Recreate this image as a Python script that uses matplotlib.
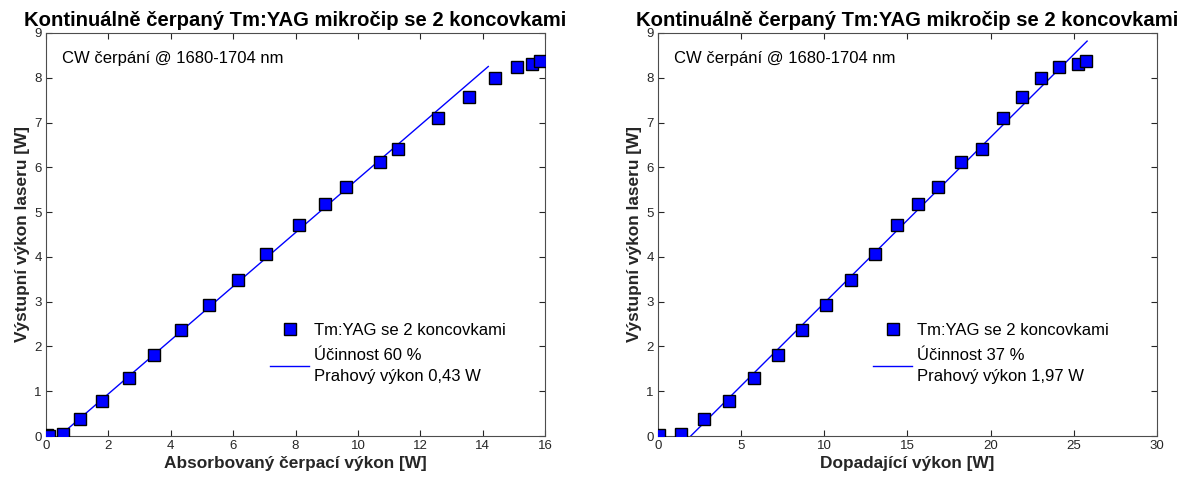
import matplotlib
matplotlib.use("Agg")
import matplotlib.pyplot as plt
import numpy as np

plt.rcParams['font.family'] = ['Liberation Sans', 'DejaVu Sans']

# Absorbed pump power vs. output power
abs_pump = [0.02, 0.10, 0.54, 1.09, 1.80, 2.66, 3.46, 4.33, 5.22, 6.15, 7.05,
            8.10, 8.94, 9.62, 10.70, 11.28, 12.56, 13.56, 14.39, 15.10, 15.58, 15.83]
abs_out = [0.02, 0.01, 0.05, 0.38, 0.79, 1.29, 1.80, 2.36, 2.92, 3.48, 4.07,
           4.71, 5.17, 5.57, 6.11, 6.41, 7.10, 7.58, 8.00, 8.24, 8.31, 8.37]

# Incident pump power vs. output power
inc_pump = [0.05, 1.38, 2.77, 4.27, 5.77, 7.20, 8.66, 10.10, 11.60, 13.05, 14.37,
            15.63, 16.84, 18.20, 19.48, 20.75, 21.90, 23.03, 24.10, 25.25, 25.75]
inc_out = [0.02, 0.05, 0.38, 0.79, 1.29, 1.80, 2.36, 2.92, 3.48, 4.07, 4.71,
           5.17, 5.57, 6.11, 6.41, 7.10, 7.58, 8.00, 8.24, 8.31, 8.37]

# Linear fits: slope efficiency and threshold
abs_eff, abs_thr = 0.60, 0.43
abs_fit_end = 14.18
inc_eff, inc_thr = 0.37, 1.97
inc_fit_end = 25.80

title = "Kontinuálně čerpaný Tm:YAG mikročip se 2 koncovkami"
note = "CW čerpání @ 1680-1704 nm"
ylabel = "Výstupní výkon laseru [W]"
series_label = "Tm:YAG se 2 koncovkami"

fig = plt.figure(figsize=(11.94, 4.84), dpi=100)
ax1 = fig.add_axes([0.0385, 0.099, 0.418, 0.833])
ax2 = fig.add_axes([0.551, 0.099, 0.418, 0.833])

panels = [
    (ax1, abs_pump, abs_out, abs_eff, abs_thr, abs_fit_end,
     "Absorbovaný čerpací výkon [W]", (0, 16), np.arange(0, 17, 2), "Účinnost 60 %\nPrahový výkon 0,43 W",
     (0.419, 0.318)),
    (ax2, inc_pump, inc_out, inc_eff, inc_thr, inc_fit_end,
     "Dopadající výkon [W]", (0, 30), np.arange(0, 31, 5), "Účinnost 37 %\nPrahový výkon 1,97 W",
     (0.401, 0.318)),
]

for ax, px, py, eff, thr, xend, xlabel, xlim, xticks, fit_label, leg_pos in panels:
    fx = np.array([thr, xend])
    fy = eff * (fx - thr)
    ax.plot(px, py, linestyle='none', marker='s', markersize=8.5,
            markerfacecolor='#0000ff', markeredgecolor='black', markeredgewidth=1.0,
            label=series_label, zorder=3)
    ax.plot(fx, fy, color='#0000ff', linewidth=1.0, label=fit_label, zorder=2)
    ax.set_xlim(*xlim)
    ax.set_ylim(0, 9)
    ax.set_xticks(xticks)
    ax.set_yticks(np.arange(0, 10, 1))
    ax.tick_params(direction='in', top=True, right=True, length=4, width=0.8,
                   labelsize=9.5, colors='#262626', pad=3)
    for s in ax.spines.values():
        s.set_color('#4d4d4d')
        s.set_linewidth(0.8)
    ax.set_title(title, fontsize=14.6, fontweight='bold', pad=5)
    ax.set_xlabel(xlabel, fontsize=12.4, fontweight='bold', color='#262626', labelpad=3)
    ax.set_ylabel(ylabel, fontsize=12.4, fontweight='bold', color='#262626', labelpad=3)
    ax.text(0.033, 0.955, note, transform=ax.transAxes, fontsize=12, va='top', ha='left')
    leg = ax.legend(loc='upper left', bbox_to_anchor=leg_pos, frameon=False, fontsize=12,
                    handlelength=2.35, handletextpad=0.3, labelspacing=0.6)
    for t in leg.get_texts():
        t.set_linespacing(1.5)

fig.savefig("out.png", dpi=100)
